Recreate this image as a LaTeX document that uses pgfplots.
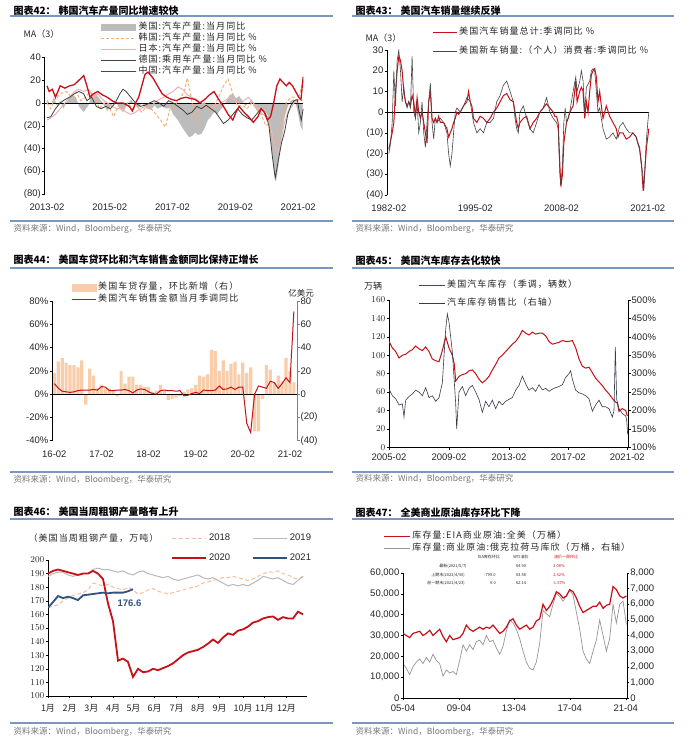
\documentclass[border=0pt]{standalone}
\usepackage{fontspec}
\setmainfont{Liberation Sans}
\newfontfamily\cjk{Noto Sans CJK SC}
\newfontfamily\cjkl[LetterSpace=12]{Noto Sans CJK SC}
\usepackage{pgfplots}
\pgfplotsset{compat=1.18}

\definecolor{rulec}{RGB}{120,152,192}
\definecolor{hred}{RGB}{200,16,24}
\definecolor{usgray}{RGB}{188,188,188}
\definecolor{korea}{RGB}{244,176,120}
\definecolor{japan}{RGB}{238,178,178}
\definecolor{germ}{RGB}{64,64,64}
\definecolor{p2gray}{RGB}{70,70,70}
\definecolor{peach}{RGB}{250,205,170}
\definecolor{p4dark}{RGB}{55,60,75}
\definecolor{y18}{RGB}{247,190,150}
\definecolor{y19}{RGB}{185,185,185}
\definecolor{y21}{RGB}{47,82,128}
\definecolor{p6gray}{RGB}{150,150,150}
\definecolor{srcgray}{RGB}{120,120,120}

\pgfplotsset{
  base/.style={scale only axis, anchor=south west,
    tick label style={font=\fontsize{9.5}{11}\selectfont, text=black!85},
    tick align=outside, major tick length=2.5pt, scaled ticks=false,
    axis line style={black}, tick style={black, line width=0.4pt},
    yticklabel style={inner xsep=1pt},
    legend cell align=left},
  leg/.style={legend style={draw=none, fill=none, inner sep=0pt, anchor=north west,
    font=\cjkl\fontsize{9}{10}\selectfont, text=black!85,
    nodes={inner xsep=2pt, inner ysep=0pt, text height=7pt, text depth=2pt}}},
  limg/.style={legend image code/.code={\draw[##1] (0pt,0pt) -- (#1,0pt);}},
}

\newcommand{\ttl}[3]{\node[anchor=west, font=\cjk\bfseries\fontsize{10}{12}\selectfont] at (#1pt,#2pt) {#3};}
\newcommand{\src}[2]{\node[anchor=west, font=\cjk\fontsize{8.5}{10}\selectfont, text=srcgray] at (#1pt,#2pt) {资料来源：Wind，Bloomberg，华泰研究};}

\begin{document}
\begin{tikzpicture}
\fill[white] (0pt,0pt) rectangle (692pt,741pt);
\path[use as bounding box] (0pt,0pt) rectangle (692pt,741pt);

% ---------- frames: titles, rules, sources
\ttl{10}{730}{图表42：\hspace{3pt}韩国汽车产量同比增速较快}
\ttl{352}{730}{图表43：\hspace{3pt}美国汽车销量继续反弹}
\ttl{10}{481}{图表44：\hspace{3pt}美国车贷环比和汽车销售金额同比保持正增长}
\ttl{352}{480}{图表45：\hspace{3pt}美国汽车库存去化较快}
\ttl{10}{229}{图表46：\hspace{3pt}美国当周粗钢产量略有上升}
\ttl{352}{228}{图表47：\hspace{3pt}全美商业原油库存环比下降}
\foreach \yy in {725,520,473,269,222,18} {
  \draw[rulec, line width=1.1pt] (10pt,\yy pt) -- (333pt,\yy pt);
  \draw[rulec, line width=1.1pt] (352pt,\yy pt) -- (674pt,\yy pt);
}
\src{10}{512}\src{352}{512}
\src{10}{261}\src{352}{262}
\src{10}{9}\src{352}{9}

% ---------- panel 42
\node[anchor=west, font=\cjk\fontsize{9}{10}\selectfont, text=black!85] at (20pt,707pt) {MA（3）};
\begin{axis}[base, leg, limg=35pt, at={(44.5pt,546.7pt)}, width=259pt, height=137pt,
  xmin=2013.0, xmax=2021.25, ymin=-80, ymax=40,
  axis y line*=left, axis x line*=bottom, x axis line style={draw=none},
  xtick={2013.08,2015.08,2017.08,2019.08,2021.08},
  xticklabels={2013-02,2015-02,2017-02,2019-02,2021-02},
  xtick style={draw=none}, xticklabel style={yshift=-4pt},
  ytick={-80,-60,...,40}, yticklabels={(80),(60),(40),(20),0,20,40},
  legend style={at={(0.2143,1.254)}, row sep=2pt}]
\addplot[fill=usgray, draw=none, legend image code/.code={\fill[usgray] (0pt,-3.5pt) rectangle (35pt,3.5pt);}] coordinates {
(2013.08,3) (2013.2,-2) (2013.3,5) (2013.4,-3) (2013.5,2) (2013.6,-5) (2013.75,3) (2013.9,7) (2014.0,5) (2014.1,-3) (2014.25,-8) (2014.4,-2) (2014.5,6) (2014.6,9) (2014.75,4) (2014.9,-2) (2015.0,-7) (2015.1,-3) (2015.25,2) (2015.4,-5) (2015.5,-8) (2015.6,-3) (2015.75,3) (2015.9,-2) (2016.0,-4) (2016.1,0) (2016.25,-5) (2016.4,-6) (2016.5,-2) (2016.6,-5) (2016.75,-3) (2016.9,-5) (2017.0,-4) (2017.1,-10) (2017.25,-15) (2017.4,-22) (2017.5,-26) (2017.6,-30) (2017.7,-29) (2017.8,-26) (2017.9,-28) (2018.0,-27) (2018.1,-22) (2018.2,-15) (2018.3,-12) (2018.4,-8) (2018.5,-10) (2018.6,-6) (2018.7,-3) (2018.8,2) (2018.9,7) (2019.0,8) (2019.1,4) (2019.2,6) (2019.3,2) (2019.4,-3) (2019.5,0) (2019.6,3) (2019.7,-4) (2019.8,-8) (2019.9,-6) (2020.0,-7) (2020.1,-10) (2020.2,-30) (2020.3,-58) (2020.38,-68) (2020.45,-55) (2020.55,-30) (2020.65,-12) (2020.75,-3) (2020.85,2) (2020.95,3) (2021.0,0) (2021.08,-10) (2021.15,-20) (2021.22,-24)
} \closedcycle;
\addlegendentry{美国:汽车产量:当月同比}
\addplot[black, line width=0.6pt, forget plot] coordinates {(2013.0,0) (2021.25,0)};
\addplot[korea, line width=1pt, dash pattern=on 3pt off 2pt] coordinates {
(2013.08,0) (2013.2,-5) (2013.3,2) (2013.5,8) (2013.7,10) (2013.85,5) (2014.0,10) (2014.15,2) (2014.3,5) (2014.45,10) (2014.6,5) (2014.75,-5) (2014.9,0) (2015.05,-3) (2015.2,-12) (2015.35,-3) (2015.5,-5) (2015.65,0) (2015.8,-5) (2015.95,-3) (2016.1,-8) (2016.25,-3) (2016.4,-5) (2016.55,-10) (2016.7,-15) (2016.85,-21) (2017.0,-5) (2017.15,-2) (2017.3,3) (2017.45,10) (2017.55,22) (2017.65,8) (2017.75,-8) (2017.85,-15) (2017.95,-5) (2018.1,0) (2018.25,-8) (2018.4,-3) (2018.55,5) (2018.7,15) (2018.85,21) (2019.0,8) (2019.15,-3) (2019.3,-2) (2019.45,-5) (2019.6,0) (2019.75,-5) (2019.9,-10) (2020.05,-20) (2020.15,-18) (2020.25,-30) (2020.35,-38) (2020.45,-25) (2020.55,-12) (2020.7,0) (2020.85,5) (2020.95,5) (2021.05,0) (2021.15,10) (2021.22,20)
};
\addlegendentry{韩国:汽车产量:当月同比 \%}
\addplot[japan, line width=1pt] coordinates {
(2013.08,-15) (2013.2,-13) (2013.35,-10) (2013.5,-5) (2013.65,0) (2013.8,5) (2013.95,10) (2014.1,12) (2014.25,10) (2014.4,12) (2014.55,5) (2014.7,8) (2014.85,3) (2015.0,0) (2015.15,-3) (2015.3,-5) (2015.45,-5) (2015.6,-8) (2015.75,-10) (2015.9,-8) (2016.05,-5) (2016.2,-3) (2016.35,-5) (2016.5,0) (2016.65,3) (2016.8,5) (2016.95,8) (2017.1,10) (2017.25,14) (2017.4,12) (2017.55,7) (2017.7,5) (2017.85,3) (2018.0,0) (2018.15,-2) (2018.3,-5) (2018.45,-3) (2018.6,0) (2018.75,2) (2018.9,5) (2019.05,3) (2019.2,0) (2019.35,2) (2019.5,5) (2019.65,0) (2019.8,-5) (2019.95,-10) (2020.1,-12) (2020.2,-20) (2020.3,-35) (2020.42,-45) (2020.52,-35) (2020.62,-20) (2020.75,-8) (2020.9,-2) (2021.0,2) (2021.12,3) (2021.22,2)
};
\addlegendentry{日本:汽车产量:当月同比 \%}
\addplot[germ, line width=0.8pt] coordinates {
(2013.08,-13) (2013.2,-12) (2013.35,-5) (2013.5,0) (2013.65,3) (2013.8,5) (2013.95,8) (2014.1,10) (2014.25,8) (2014.35,2) (2014.5,5) (2014.65,-3) (2014.8,-5) (2014.95,-3) (2015.1,-5) (2015.25,0) (2015.4,8) (2015.5,12) (2015.6,10) (2015.75,5) (2015.9,0) (2016.05,-3) (2016.2,-2) (2016.35,0) (2016.5,2) (2016.65,0) (2016.8,-3) (2016.95,2) (2017.1,0) (2017.25,-3) (2017.4,-6) (2017.55,-10) (2017.7,-8) (2017.85,-3) (2018.0,-5) (2018.15,-2) (2018.3,-5) (2018.45,-8) (2018.6,-14) (2018.7,-18) (2018.85,-15) (2019.0,-10) (2019.15,-5) (2019.3,-10) (2019.45,-13) (2019.6,-15) (2019.75,-10) (2019.9,-5) (2020.05,-10) (2020.15,-20) (2020.25,-45) (2020.35,-66) (2020.45,-50) (2020.55,-35) (2020.65,-25) (2020.75,-10) (2020.85,-2) (2020.95,2) (2021.05,3) (2021.12,-8) (2021.18,-15) (2021.24,-5)
};
\addlegendentry{德国:乘用车产量:当月同比 \%}
\addplot[hred, line width=1.3pt] coordinates {
(2013.08,15) (2013.15,10) (2013.25,12) (2013.35,5) (2013.5,15) (2013.65,13) (2013.8,15) (2013.95,16) (2014.1,20) (2014.25,24) (2014.35,15) (2014.45,5) (2014.55,8) (2014.7,10) (2014.85,7) (2015.0,5) (2015.15,2) (2015.3,0) (2015.5,0) (2015.7,-3) (2015.8,-7) (2015.9,0) (2016.0,5) (2016.1,15) (2016.2,25) (2016.3,27) (2016.45,22) (2016.6,15) (2016.75,8) (2016.9,5) (2017.05,3) (2017.2,2) (2017.35,4) (2017.5,5) (2017.65,4) (2017.8,3) (2017.95,0) (2018.1,3) (2018.25,7) (2018.4,10) (2018.55,3) (2018.7,-3) (2018.85,-10) (2019.0,-15) (2019.1,-8) (2019.2,-3) (2019.35,-8) (2019.5,-12) (2019.65,-17) (2019.8,-12) (2019.9,-5) (2020.0,-8) (2020.1,-15) (2020.2,-12) (2020.3,0) (2020.4,15) (2020.5,21) (2020.6,18) (2020.7,15) (2020.8,18) (2020.9,15) (2021.0,10) (2021.1,5) (2021.17,3) (2021.24,23)
};
\addlegendentry{中国:汽车产量:当月同比 \%}
\end{axis}

% ---------- panel 43
\node[anchor=west, font=\cjk\fontsize{9}{10}\selectfont, text=black!85] at (362pt,703pt) {MA（3）};
\begin{axis}[base, leg, limg=24pt, at={(387pt,546pt)}, width=262.6pt, height=145pt,
  xmin=1981.8, xmax=2021.35, ymin=-40, ymax=30,
  axis y line*=left, axis x line*=bottom, x axis line style={draw=none},
  xtick={1982.08,1995.08,2008.08,2021.08},
  xticklabels={1982-02,1995-02,2008-02,2021-02},
  xtick style={draw=none}, xticklabel style={yshift=-4pt},
  ytick={-40,-30,...,30}, yticklabels={(40),(30),(20),(10),0,10,20,30},
  legend style={at={(0.1714,1.155)}, row sep=10pt}]
\addplot[black, line width=0.6pt, forget plot] coordinates {(1981.8,0) (2021.25,0)};
\addplot[hred, line width=1pt] coordinates {
(1982.08,-18) (1982.58,-10) (1982.83,-5) (1983.08,10) (1983.33,20) (1983.58,27) (1983.83,25) (1984.08,20) (1984.33,10) (1984.58,5) (1984.83,3) (1985.08,5) (1985.33,3) (1985.58,8) (1985.83,5) (1986.08,-2) (1986.33,7) (1986.58,0) (1986.83,-3) (1987.08,0) (1987.33,-5) (1987.58,-10) (1987.83,-15) (1988.08,5) (1988.33,10) (1988.58,-3) (1988.83,-5) (1989.08,-3) (1989.33,-5) (1989.58,-2) (1989.83,-5) (1990.33,-5) (1990.83,-8) (1991.08,-12) (1991.33,-10) (1991.58,-8) (1991.83,-5) (1992.08,-3) (1992.33,0) (1992.58,-1) (1992.83,0) (1993.33,3) (1993.83,5) (1994.08,10) (1994.33,5) (1994.58,3) (1994.83,-3) (1995.33,-5) (1995.83,-2) (1996.33,-3) (1996.83,-5) (1997.33,-3) (1997.83,0) (1998.33,2) (1998.83,5) (1999.33,8) (1999.83,9) (2000.33,6) (2000.83,5) (2001.08,0) (2001.33,-5) (2001.58,-8) (2001.83,-5) (2002.33,-3) (2002.83,-2) (2003.33,-8) (2003.83,-5) (2004.33,-3) (2004.83,0) (2005.33,2) (2005.83,4) (2006.33,2) (2006.83,0) (2007.08,-2) (2007.33,-2) (2007.58,-5) (2007.83,-25) (2007.98,-36) (2008.23,-30) (2008.43,-15) (2008.83,-5) (2009.08,-3) (2009.33,0) (2009.83,3) (2010.23,15) (2010.43,5) (2010.83,10) (2011.08,12) (2011.33,10) (2011.58,-3) (2011.83,5) (2012.08,0) (2012.33,10) (2012.58,18) (2012.83,20) (2013.08,21) (2013.33,17) (2013.58,5) (2013.83,10) (2014.08,3) (2014.33,-3) (2014.58,0) (2014.83,3) (2015.33,-2) (2015.83,-5) (2016.33,-8) (2016.58,-12) (2016.83,-10) (2017.33,-10) (2017.83,-13) (2018.33,-12) (2018.83,-10) (2019.33,-12) (2019.58,-15) (2019.83,-17) (2020.13,-25) (2020.38,-38) (2020.63,-28) (2020.88,-17) (2021.08,-12) (2021.23,-8)
};
\addlegendentry{美国汽车销量总计:季调同比 \%}
\addplot[p2gray, line width=0.6pt] coordinates {
(1982.08,-20) (1982.33,-15) (1982.58,-5) (1982.83,20) (1983.08,3) (1983.33,25) (1983.58,30) (1983.83,20) (1984.08,5) (1984.33,12) (1984.58,5) (1984.83,2) (1985.08,5) (1985.33,2) (1985.58,27) (1985.83,0) (1986.08,-3) (1986.33,5) (1986.58,-10) (1986.83,-5) (1987.08,5) (1987.33,-10) (1987.58,-17) (1987.83,-5) (1988.08,5) (1988.33,14) (1988.58,-5) (1988.83,-13) (1989.08,-3) (1989.33,-5) (1989.83,-3) (1990.33,-5) (1990.83,-10) (1991.08,-20) (1991.33,-26) (1991.58,-20) (1991.83,-10) (1992.08,0) (1992.33,2) (1992.83,0) (1993.33,3) (1993.83,7) (1994.33,5) (1994.58,0) (1994.83,-5) (1995.33,-10) (1995.83,-8) (1996.33,-10) (1996.83,-5) (1997.33,-5) (1997.83,-3) (1998.33,5) (1998.83,8) (1999.33,13) (1999.83,15) (2000.33,10) (2000.83,5) (2001.08,-3) (2001.33,-8) (2001.58,-10) (2001.83,0) (2002.33,3) (2002.83,-3) (2003.33,-8) (2003.83,-10) (2004.33,-5) (2004.83,0) (2005.33,2) (2005.83,7) (2006.33,0) (2006.83,-3) (2007.33,-5) (2007.58,-8) (2007.83,-30) (2007.98,-35) (2008.23,-25) (2008.43,-5) (2008.63,2) (2008.83,-5) (2009.08,-3) (2009.33,0) (2009.58,5) (2009.83,10) (2010.23,17) (2010.43,10) (2010.83,15) (2011.08,20) (2011.33,15) (2011.58,0) (2011.83,12) (2012.33,15) (2012.58,20) (2012.83,21) (2013.08,20) (2013.33,10) (2013.58,0) (2013.83,2) (2014.08,-3) (2014.33,-8) (2014.83,-13) (2015.33,-12) (2015.83,-10) (2016.33,-13) (2016.83,-7) (2017.33,-5) (2017.83,-8) (2018.33,-10) (2018.83,-10) (2019.33,-12) (2019.83,-18) (2020.08,-25) (2020.33,-30) (2020.48,-38) (2020.68,-25) (2020.83,-15) (2021.08,-5) (2021.23,0)
};
\addlegendentry{美国新车销量:（个人）消费者:季调同比 \%}
\end{axis}

% ---------- panel 44
\node[font=\cjk\fontsize{8.5}{10}\selectfont, text=black!85] at (301pt,448pt) {亿美元};
\begin{axis}[base, at={(52pt,300.3pt)}, width=245pt, height=139.7pt,
  xmin=-0.6, xmax=61.8, ymin=-40, ymax=80,
  axis y line*=right, axis x line=none,
  y axis line style={gray}, ytick style={gray},
  ytick={-40,-20,...,80}, yticklabels={(40),(20),0,20,40,60,80}]
\addplot[ybar, bar width=3.2pt, fill=peach, draw=none] coordinates {
(0,18) (1,28) (2,31) (3,27) (4,25) (5,25) (6,23) (7,29) (8,-9) (9,22) (10,16) (11,5) (12,8) (13,5) (14,5) (15,3) (16,-2) (17,20) (18,9) (19,15) (20,15) (21,8) (22,8) (23,6) (24,6) (25,2) (26,3) (27,8) (28,3) (29,-5) (30,-4) (31,-3) (32,-2) (33,2) (34,4) (35,5) (36,8) (37,16) (38,15) (39,17) (40,38) (41,37) (42,20) (43,29) (44,20) (45,26) (46,28) (47,17) (48,27) (49,18) (50,23) (51,-32) (52,-32) (53,-4) (54,25) (55,21) (56,10) (57,16) (58,11) (59,31) (60,20) (61,10)
};
\end{axis}
\begin{axis}[base, leg, limg=24pt, at={(52pt,300.3pt)}, width=245pt, height=139.7pt,
  xmin=-0.6, xmax=61.8, ymin=-40, ymax=80,
  axis y line*=left, axis x line*=bottom, x axis line style={draw=none},
  xtick={0,12,...,60}, xticklabels={16-02,17-02,18-02,19-02,20-02,21-02},
  xtick style={draw=none}, xticklabel style={yshift=-4pt},
  ytick={-40,-20,...,80}, yticklabels={-40\%,-20\%,0\%,20\%,40\%,60\%,80\%},
  legend style={at={(0.0776,1.1324)}, row sep=3pt}]
\addlegendimage{legend image code/.code={\fill[peach] (0pt,-3.5pt) rectangle (24pt,3.5pt);}}
\addlegendentry{美国车贷存量，环比新增（右）}
\addplot[black, line width=0.6pt, forget plot] coordinates {(-0.6,0) (61.8,0)};
\addplot[hred, line width=1pt] coordinates {
(0,9) (1,5) (2,2.5) (3,2) (4,1.5) (5,2) (6,3) (7,3.5) (8,3.5) (9,3.5) (10,4) (11,3.5) (12,6.5) (13,6) (14,3) (15,3) (16,3.5) (17,3.5) (18,4) (19,3) (20,1) (21,3.5) (22,4.5) (23,4) (24,2) (25,0.5) (26,0) (27,3) (28,3.5) (29,3) (30,3) (31,2.5) (32,3) (33,-1.5) (34,-1) (35,0.5) (36,1.5) (37,0.5) (38,3.5) (39,3) (40,3) (41,3.5) (42,7) (43,4) (44,4.5) (45,6) (46,4) (47,6) (48,6) (49,-25) (50,-33) (51,0) (52,7) (53,6) (54,5) (55,11) (56,10) (57,5) (58,9) (59,14) (60,10) (61,71)
};
\addlegendentry{美国汽车销售金额当月季调同比}
\end{axis}

% ---------- panel 45
\node[font=\cjk\fontsize{9}{10}\selectfont, text=black!85] at (373pt,455pt) {万辆};
\begin{axis}[base, at={(389pt,293.7pt)}, width=239pt, height=147.3pt,
  xmin=0, xmax=71.7, ymin=0, ymax=160,
  axis y line*=left, axis x line*=bottom,
  xtick={0,18,36,53.8,71.5},
  xticklabels={2005-02,2009-02,2013-02,2017-02,2021-02},
  xticklabel style={yshift=-1pt},
  ytick={0,20,...,160}]
\addplot[hred, line width=1pt] coordinates {
(0,115) (1,108) (2,104) (3,97) (4,100) (5,101) (6,104) (7,106) (8,110) (9,107) (10,105) (11,109) (12,104) (13,96) (14,94) (15,93) (16,105) (17,120) (18,108) (19,100) (19.6,90) (20,72) (21,77) (22,79) (23,80) (24,83) (25,84) (26,80) (27,74) (28,70) (29,73) (30,77) (31,84) (32,90) (33,97) (34,100) (35,104) (36,108) (37,112) (38,115) (39,120) (40,127) (41,124) (42,122) (43,125) (44,123) (45,124) (46,124) (47,121) (48,115) (49,112) (50,113) (51,114) (52,116) (53,115) (54,115) (55,116) (56,108) (57,96) (58,88) (59,86) (60,87) (61,81) (62,75) (63,71) (64,67) (65,62) (66,58) (67,53) (68,49) (68.5,48) (69,39) (70,42) (71,40) (71.5,34)
};
\end{axis}
\begin{axis}[base, leg, limg=26pt, at={(389pt,293.7pt)}, width=239pt, height=147.3pt,
  xmin=0, xmax=71.7, ymin=100, ymax=500,
  axis y line*=right, axis x line=none,
  ytick={100,150,...,500}, yticklabels={100\%,150\%,200\%,250\%,300\%,350\%,400\%,450\%,500\%},
  legend style={at={(0.1215,1.1324)}, row sep=9pt}]
\addlegendimage{hred, line width=1pt}
\addlegendentry{美国汽车库存（季调，辆数）}
\addplot[p4dark, line width=0.6pt] coordinates {
(0,258) (1,240) (2,232) (3,215) (4,218) (4.5,182) (5,228) (6,238) (7,245) (8,255) (9,250) (10,240) (11,262) (12,235) (13,240) (14,225) (15,235) (16,275) (17,420) (17.5,462) (18,440) (19,360) (20,220) (20.3,150) (21,250) (22,265) (23,240) (24,260) (25,268) (26,250) (27,230) (28,195) (29,225) (30,210) (31,228) (32,205) (33,225) (34,215) (35,225) (36,230) (37,235) (38,255) (39,268) (40,293) (41,272) (42,255) (43,262) (44,252) (45,270) (46,256) (47,260) (48,252) (49,258) (50,262) (51,265) (52,270) (53,290) (54,300) (54.5,308) (55,285) (56,255) (57,248) (58,245) (59,240) (60,232) (61,198) (62,215) (63,228) (64,210) (65,210) (66,205) (67,182) (67.5,200) (67.9,372) (68.3,230) (69,205) (70,192) (71,185) (71.3,175) (71.6,135)
};
\addlegendentry{汽车库存销售比（右轴）}
\end{axis}

% ---------- panel 46
\node[anchor=west, font=\cjkl\fontsize{9}{10}\selectfont, text=black!85] at (25pt,203pt) {（美国当周粗钢产量，万吨）};
\node[font=\bfseries\fontsize{9.5}{11}\selectfont, text=y21] at (129.5pt,138pt) {176.6};
\begin{axis}[base, leg, limg=34pt, at={(48pt,45pt)}, width=259pt, height=136pt,
  xmin=0, xmax=51.8, ymin=100, ymax=200,
  axis y line*=left, axis x line*=bottom,
  xtick={0,4.33,8.67,13,17.1,21.3,25.7,30,34.3,39,43.3,47.7},
  xticklabels={1月,2月,3月,4月,5月,6月,7月,8月,9月,10月,11月,12月},
  xticklabel style={font=\cjk\fontsize{9}{10}\selectfont, yshift=-2pt},
  ytick={100,110,...,200},
  legend columns=2,
  legend style={at={(0.4749,1.1949)}, row sep=11pt, font=\fontsize{9.5}{11}\selectfont,
    /tikz/every even column/.append style={column sep=20pt}}]
\addplot[y18, line width=1pt, dash pattern=on 4pt off 2.5pt] coordinates {
(0,165) (1,166) (2,167) (3,170) (4,172) (5,174) (6,175) (7,176) (8,178) (9,183) (10,182) (11,181) (12,182) (13,180) (14,179) (15,178) (16,180) (17,178) (18,175) (19,176) (20,178) (21,179) (22,177) (23,176) (24,175) (25,176) (26,177) (27,178) (28,179) (29,180) (30,181) (31,183) (32,184) (33,185) (34,186) (35,187) (36,187) (37,188) (38,187) (39,186) (40,185) (41,186) (42,188) (43,190) (44,191) (45,191) (46,192) (47,190) (48,189) (49,187) (50,186) (51,188)
};
\addlegendentry{2018}
\addplot[y19, line width=1pt] coordinates {
(0,188) (1,190) (2,191) (3,191) (4,189) (5,188) (6,189) (7,190) (8,190) (9,193) (10,194) (11,193) (12,193) (13,192) (14,191) (15,192) (16,190) (17,189) (18,191) (19,192) (20,190) (21,189) (22,188) (23,187) (24,188) (25,186) (26,185) (27,186) (28,187) (29,188) (30,189) (31,187) (32,186) (33,187) (34,185) (35,183) (36,181) (37,182) (38,181) (39,182) (40,181) (41,183) (42,185) (43,188) (44,187) (45,186) (46,187) (47,185) (48,183) (49,182) (50,185) (51,188)
};
\addlegendentry{2019}
\addplot[hred, line width=1.8pt] coordinates {
(0,190) (1,192) (2,193) (3,192) (4,191) (5,190) (6,189) (7,190) (8,190) (9,192) (10,190) (11,186) (12,168) (13,155) (14,126) (15,127.5) (16,125) (17,114) (18,120) (19,117.5) (20,118) (21,120) (22,119) (23,120.5) (24,122) (25,124) (26,127) (27,130) (28,132) (29,133) (30,134) (31,136) (32,138.5) (33,141.5) (34,139) (35,143) (36,146) (37,145) (38,148) (39,149) (40,151) (41,154) (42,155) (43,157) (44,158) (45,158.5) (46,156) (47,158) (48,157) (49,157) (50,162) (51,160)
};
\addlegendentry{2020}
\addplot[y21, line width=1.8pt] coordinates {
(0,165) (1,169) (2,173.5) (3,172) (4,173) (5,172) (6,170.5) (7,174) (8,174.5) (9,175) (10,175.5) (11,176) (12,175.5) (13,176) (14,176) (15,176) (16,177) (17,178.5)
};
\addlegendentry{2021}
\end{axis}

% ---------- panel 47
\begin{scope}[font=\cjk\fontsize{4}{5}\selectfont, text=black!85]
\node at (489pt,184pt) {EIA库存环比};
\node at (521pt,184pt) {WTI油价};
\node[text=hred] at (566pt,184pt) {油价一周环比};
\node at (453pt,175pt) {最新(2021/5/7)};
\node at (521pt,175pt) {64.90};
\node[text=hred] at (559pt,175pt) {2.08\%};
\node at (448pt,166pt) {上期末(2021/4/30)};
\node at (490pt,166pt) {-799.0};
\node at (521pt,166pt) {63.58};
\node[text=hred] at (559pt,166pt) {2.32\%};
\node at (446pt,158pt) {前一期末(2021/4/23)};
\node at (493pt,158pt) {9.0};
\node at (521pt,158pt) {62.14};
\node[text=hred] at (559pt,158pt) {-1.57\%};
\end{scope}
\begin{axis}[base, at={(403pt,43pt)}, width=223.7pt, height=125pt,
  xmin=0, xmax=67.1, ymin=0, ymax=8000,
  axis y line*=right, axis x line=none,
  ytick={0,1000,...,8000},
  yticklabels={0,{1,000},{2,000},{3,000},{4,000},{5,000},{6,000},{7,000},{8,000}}]
\addplot[p6gray, line width=0.7pt] coordinates {
(0,2200) (1,1900) (2,1500) (3,2000) (4,2300) (5,2500) (6,2200) (7,2600) (8,2300) (9,2800) (10,2400) (11,2200) (12,1400) (13,1800) (14,1600) (15,1700) (16,1500) (17,2400) (18,3400) (19,3000) (20,3400) (21,3100) (22,3600) (23,3700) (24,3400) (25,4000) (26,3600) (27,3700) (28,3200) (29,2800) (30,3300) (31,4300) (32,5000) (33,4800) (34,4400) (35,3800) (36,3000) (37,2300) (38,1900) (39,1800) (40,2300) (41,3500) (42,5600) (43,5400) (44,5200) (45,6000) (46,6700) (47,6500) (48,6200) (49,6500) (50,6900) (51,6600) (52,5500) (53,4400) (54,3000) (55,2500) (56,2200) (57,3000) (58,3700) (59,5000) (60,4000) (61,3000) (62,3800) (63,6000) (64,4800) (65,6000) (66,6200) (67,4700)
};
\end{axis}
\begin{axis}[base, leg, limg=26pt, at={(403pt,43pt)}, width=223.7pt, height=125pt,
  xmin=0, xmax=67.1, ymin=0, ymax=60000,
  axis y line*=left, axis x line*=bottom,
  xtick={0,16.8,33.3,50,66.8}, xticklabels={05-04,09-04,13-04,17-04,21-04},
  xticklabel style={yshift=-1pt},
  ytick={0,10000,...,60000},
  yticklabels={0,{10,000},{20,000},{30,000},{40,000},{50,000},{60,000}},
  legend style={at={(-0.0893,1.332)}, row sep=3pt}]
\addplot[hred, line width=1.2pt] coordinates {
(0,31000) (1,30000) (2,29000) (3,31000) (4,31500) (5,32000) (6,30000) (7,31000) (8,32500) (9,30000) (10,31500) (11,33000) (12,29500) (13,27000) (14,30000) (15,28000) (16,28500) (17,29000) (18,31000) (19,35000) (20,33000) (21,32000) (22,33000) (23,34000) (24,33000) (25,34000) (26,33500) (27,35000) (28,33000) (29,31000) (30,32000) (31,34000) (32,37000) (33,38000) (34,35000) (35,33000) (36,34000) (37,35000) (38,33000) (39,34000) (40,37000) (41,38000) (42,45000) (43,42000) (44,44000) (45,47000) (46,51000) (47,50000) (48,48000) (49,49000) (50,52000) (51,51000) (52,48000) (53,44000) (54,41000) (55,42000) (56,43000) (57,44000) (58,44000) (59,46000) (60,43000) (61,44500) (62,45000) (63,53500) (64,52000) (65,49000) (66,48000) (67,49000)
};
\addlegendentry{库存量:EIA商业原油:全美（万桶）}
\addlegendimage{p6gray, line width=0.7pt}
\addlegendentry{库存量:商业原油:俄克拉荷马库欣（万桶，右轴）}
\end{axis}
\end{tikzpicture}
\end{document}
